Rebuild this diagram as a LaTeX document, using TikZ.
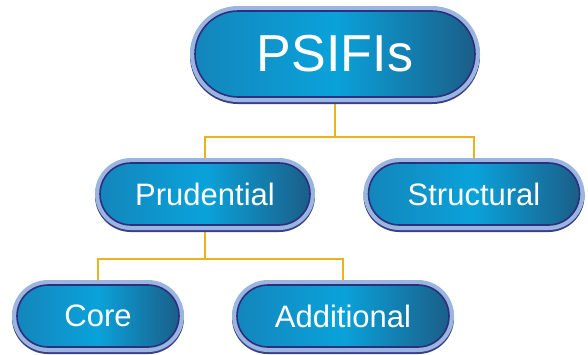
\documentclass[tikz,border=0pt]{standalone}
\usepackage{fontspec}
\setmainfont{Liberation Sans}
\usepackage{tikz}
\usetikzlibrary{calc}
\usetikzlibrary{backgrounds}
\definecolor{pillhi}{HTML}{0AA2DA}
\definecolor{pillleft}{HTML}{1386BC}
\definecolor{pilllo}{HTML}{1B5E88}
\definecolor{pillrim}{HTML}{9AB6E0}
\definecolor{pillnavy}{HTML}{2B2F7E}
\definecolor{pillshade}{HTML}{3A3F86}
\definecolor{linkgold}{HTML}{E8B41E}
\tikzset{pill/.style={rounded corners=31pt, minimum height=62pt, text=white,
    left color=pillleft, right color=pilllo, middle color=pillhi, draw=pillnavy, line width=1.6pt,
    preaction={draw=pillshade, line width=10pt, transform canvas={yshift=-2pt}},
    preaction={draw=pillrim, line width=10pt}},
  link/.style={linkgold, line width=2pt}}

\begin{document}
\begin{tikzpicture} [x=1pt,y=-1pt]
\useasboundingbox (0,0) rectangle (588,354);
\node[pill, rounded corners=43pt, minimum width=280pt, minimum height=86pt, font=\fontsize{52}{60}\selectfont] (psifis) at (335,54) {PSIFIs};
\node[pill, minimum width=210pt, font=\fontsize{31}{36}\selectfont] (prud) at (205,194) {Prudential};
\node[pill, minimum width=211pt, font=\fontsize{31}{36}\selectfont] (struct) at (474,194) {Structural};
\node[pill, minimum width=162pt, font=\fontsize{31}{36}\selectfont] (core) at (98,316) {Core};
\node[pill, minimum width=212pt, font=\fontsize{31}{36}\selectfont] (addl) at (343,316) {Additional};

% tree lines
\begin{scope}[on background layer]
\coordinate (j1) at ($(psifis.south)+(0,39)$);
\coordinate (j2) at ($(prud.south)+(0,33)$);
\draw[link] (psifis.south)--(j1);
\draw[link] (prud.north) |- (j1) -| (struct.north);
\draw[link] (prud.south)--(j2);
\draw[link] (core.north) |- (j2) -| (addl.north);
\end{scope}
\end{tikzpicture}
\end{document}
